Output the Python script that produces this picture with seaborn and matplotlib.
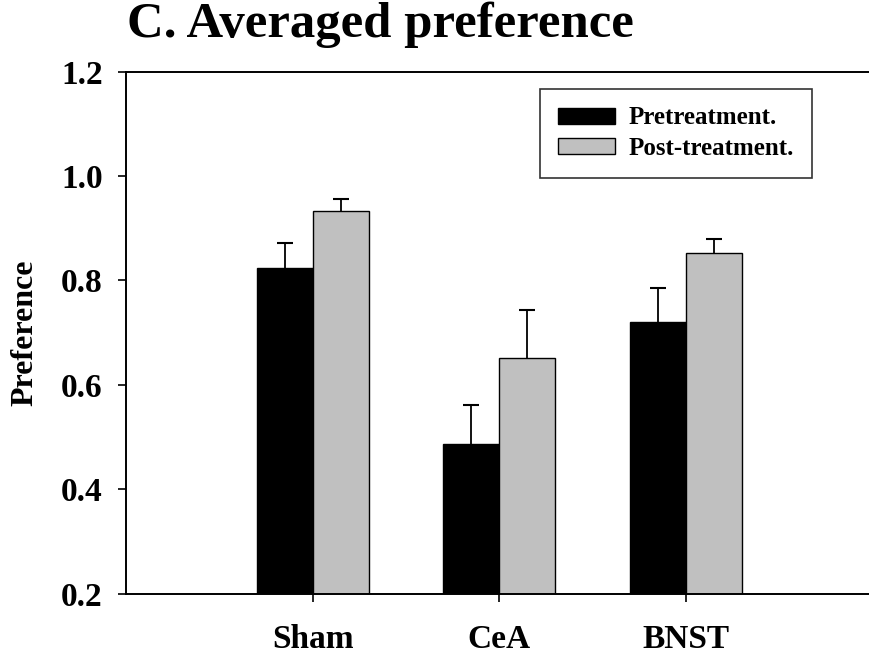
import matplotlib
matplotlib.use("Agg")
import matplotlib.pyplot as plt
import seaborn as sns
import pandas as pd

# Group means and upper error (SEM) for each lesion group
regions = ["Sham", "CeA", "BNST"]
phases = ["Pretreatment.", "Post-treatment."]
pre_mean = [0.824, 0.486, 0.720]
post_mean = [0.933, 0.651, 0.852]
pre_err = [0.047, 0.076, 0.065]
post_err = [0.023, 0.092, 0.027]
y_ticks = [0.2, 0.4, 0.6, 0.8, 1.0, 1.2]

colors = ["#000000", "#C0C0C0"]

sns.set_style("ticks")
plt.rcParams["font.family"] = ["Liberation Serif", "DejaVu Serif"]
plt.rcParams["font.weight"] = "bold"
plt.rcParams["text.color"] = "black"
plt.rcParams["axes.labelcolor"] = "black"
plt.rcParams["xtick.color"] = "black"
plt.rcParams["ytick.color"] = "black"

df = pd.DataFrame({
    "region": regions * 2,
    "phase": [phases[0]] * 3 + [phases[1]] * 3,
    "preference": pre_mean + post_mean,
})

fig = plt.figure(figsize=(8.7, 6.56), dpi=100)
ax = fig.add_axes([126 / 870, 1 - 593.5 / 656, 746.8 / 870, 522 / 656])

sns.barplot(data=df, x="region", y="preference", hue="phase",
            order=regions, hue_order=phases, palette=colors,
            width=0.6, saturation=1, edgecolor="black", linewidth=1.0,
            errorbar=None, ax=ax)

# Upper-only error bars on each bar
for container, errs in zip(ax.containers, [pre_err, post_err]):
    for bar, e in zip(container, errs):
        cx = bar.get_x() + bar.get_width() / 2
        top = bar.get_height()
        _, caps, _ = ax.errorbar(cx, top, yerr=[[0], [e]], fmt="none",
                                 ecolor="black", elinewidth=1.3,
                                 capsize=5.8, capthick=1.5, zorder=3)
        for cap in caps:
            if abs(cap.get_ydata()[0] - top) < 1e-9:
                cap.set_visible(False)

ax.set_xlim(-1.0, 3.0)
ax.set_ylim(0.2, 1.2)
ax.set_yticks(y_ticks)
ax.set_yticklabels([f"{v:.1f}" for v in y_ticks])
ax.set_xlabel("")
ax.set_ylabel("Preference", fontsize=23, fontweight="bold", color="black")
ax.yaxis.set_label_coords(-0.116, 0.5)

for side in ["left", "bottom", "top"]:
    ax.spines[side].set_visible(True)
    ax.spines[side].set_color("black")
    ax.spines[side].set_linewidth(1.4)
ax.spines["right"].set_visible(False)

ax.tick_params(axis="y", direction="out", length=5.8, width=1.2,
               labelsize=24, pad=11, color="black", labelcolor="black")
ax.tick_params(axis="x", direction="out", length=5.8, width=1.2,
               labelsize=24, pad=16, color="black", labelcolor="black")
for lab in ax.get_xticklabels() + ax.get_yticklabels():
    lab.set_fontweight("bold")

leg = ax.legend(title=None, loc="upper left",
                bbox_to_anchor=(540 / 870, 1 - 89 / 656),
                bbox_transform=fig.transFigure, borderaxespad=0,
                fontsize=18, frameon=True, fancybox=False,
                handlelength=2.3, handleheight=0.62, handletextpad=0.55,
                borderpad=0.7, labelspacing=0.3)
leg.get_frame().set_edgecolor("black")
leg.get_frame().set_linewidth(1.2)
for t in leg.get_texts():
    t.set_fontweight("bold")
    t.set_color("black")

fig.text(127 / 870, 1 - 37 / 656, "C. Averaged preference",
         fontsize=36.5, fontweight="bold", ha="left", va="baseline",
         color="black")

fig.savefig("out.png", dpi=100)
